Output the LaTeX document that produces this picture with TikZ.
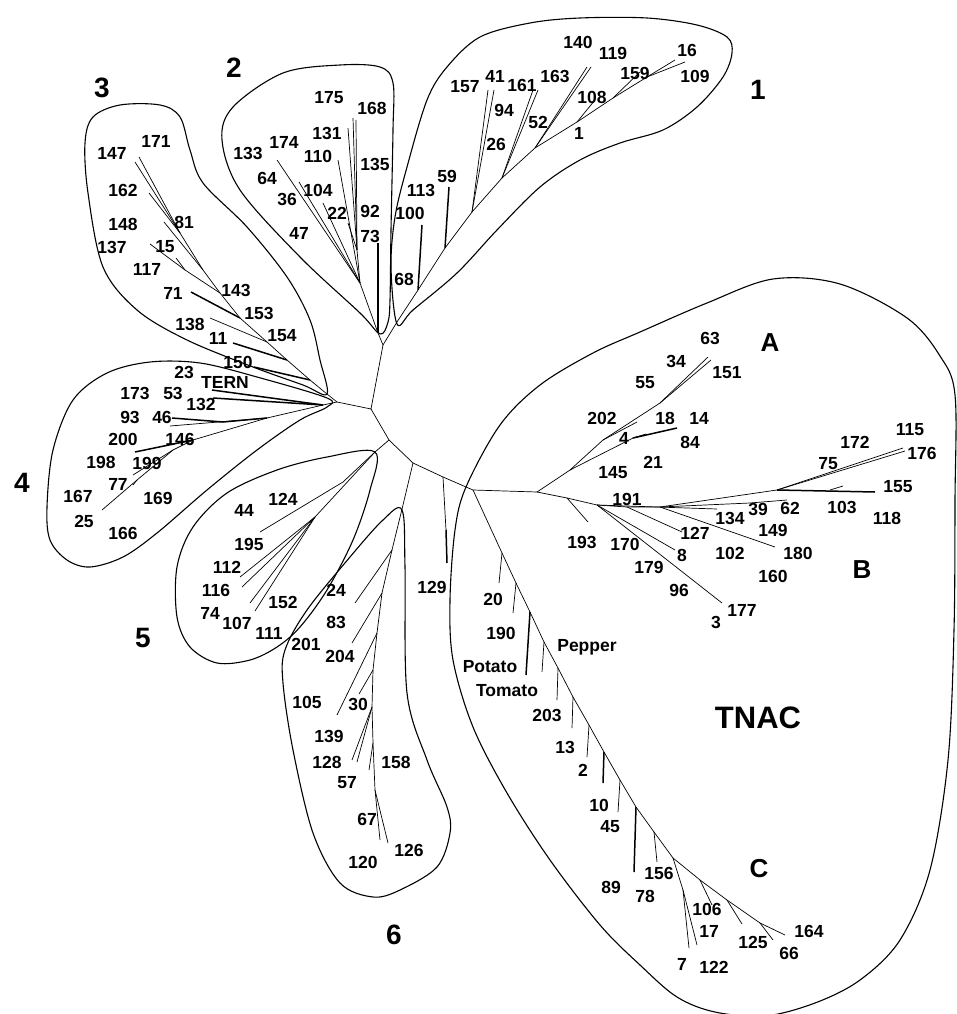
\documentclass[tikz,border=0pt]{standalone}
\usepackage{fontspec}
\setmainfont{Liberation Sans}
\begin{document}
\begin{tikzpicture}[x=1pt,y=-1pt,
  br/.style={line width=0.7pt},
  brk/.style={line width=1.5pt},
  hull/.style={line width=1.1pt},
  lab/.style={font=\fontsize{17.5}{19}\selectfont\bfseries, inner sep=0pt},
  big/.style={font=\fontsize{28}{30}\selectfont\bfseries, inner sep=0pt},
  sub/.style={font=\fontsize{26}{28}\selectfont\bfseries, inner sep=0pt},
  huge/.style={font=\fontsize{31}{33}\selectfont\bfseries, inner sep=0pt}]
\useasboundingbox (0,0) rectangle (956,1014);
% ---------------- hulls ----------------
\draw[hull] plot[smooth cycle, tension=0.55] coordinates {(397,324) (391,267) (395,217) (407,167) (427,100) (447,67) (480,37) (530,23) (580,18) (647,18) (697,25) (727,37) (732,53) (723,77) (697,107) (663,130) (620,143) (580,160) (540,187) (497,230) (457,273) (413,310)};
\draw[hull] plot[smooth cycle, tension=0.55] coordinates {(380,334) (360,313) (300,257) (240,190) (222,140) (233,107) (283,73) (340,65) (380,67) (393,83) (393,130) (391,230) (390,300) (388,322)};
\draw[hull] plot[smooth cycle, tension=0.55] coordinates {(327,394) (320,360) (310,320) (287,277) (247,227) (203,183) (190,150) (180,117) (160,105) (120,105) (93,117) (85,143) (88,193) (103,267) (137,310) (187,340) (253,367) (303,385)};
\draw[hull] plot[smooth cycle, tension=0.55] coordinates {(327,398) (257,377) (200,363) (150,362) (107,373) (73,400) (53,450) (47,507) (50,540) (67,560) (90,567) (123,557) (157,533) (207,490) (257,450) (300,420) (327,407)};
\draw[hull] plot[smooth cycle, tension=0.55] coordinates {(375,452) (327,457) (277,470) (227,493) (193,527) (177,567) (177,617) (190,647) (217,663) (250,660) (277,647) (300,627) (327,590) (353,540) (370,490)};
\draw[hull] plot[smooth cycle, tension=0.55] coordinates {(402,510) (405,567) (407,693) (427,760) (447,807) (450,833) (437,867) (400,890) (373,897) (340,883) (313,833) (293,750) (283,683) (285,650) (307,610) (350,557) (383,520)};
\draw[hull] plot[smooth cycle, tension=0.55] coordinates {(466,487) (455,530) (450,600) (453,660) (473,727) (507,793) (550,860) (600,925) (640,965) (677,997) (715,1012) (765,1016) (815,1003) (860,980) (900,940) (930,870) (948,760) (954,630) (955,500) (955,395) (940,356) (907,318) (840,284) (773,279) (707,303) (640,332) (593,353) (540,385) (500,425)};
% ---------------- backbone ----------------
\coordinate (r1) at (397,322);
\coordinate (r2) at (378,333);
\coordinate (c12) at (383,345);
\coordinate (n1) at (371,409);
\coordinate (n34) at (337,402);
\coordinate (r3) at (327,394);
\coordinate (r4) at (323,405);
\coordinate (n2) at (389,440);
\coordinate (r5) at (375,452);
\coordinate (n3) at (413,463);
\coordinate (n129) at (443,477);
\coordinate (rT) at (473,490);
\coordinate (rAB) at (537,492);
\draw[br] (r1) -- (c12) -- (r2);
\draw[br] (c12) -- (n1) -- (n34) -- (r3);
\draw[br] (n34) -- (r4);
\draw[br] (n1) -- (n2) -- (r5);
\draw[br] (n2) -- (n3) -- (n129) -- (rT) -- (rAB);
% ---------------- clade 1 ----------------
\coordinate (a1) at (418,290); \coordinate (a2) at (445,248); \coordinate (a3) at (472,212);
\coordinate (a4) at (502,178); \coordinate (a5) at (535,148); \coordinate (a6) at (577,122);
\coordinate (a7) at (613,98); \coordinate (a8) at (647,77);
\coordinate (t109) at (685,62); \coordinate (t16) at (675,60); \coordinate (t68) at (422,225);
\coordinate (t59) at (449,187); \coordinate (t157) at (488,90); \coordinate (t41) at (494,90);
\coordinate (t161) at (533,90); \coordinate (t163) at (538,90); \coordinate (t140) at (587,67);
\coordinate (t119) at (591,67); \coordinate (t108) at (595,100); \coordinate (t159) at (640,72);
\draw[br] (r1) -- (a1) -- (a2) -- (a3) -- (a4) -- (a5) -- (a6) -- (a7) -- (a8) -- (t109);
\draw[br] (a8) -- (t16);
\draw[brk] (a1) -- (t68);
\draw[brk] (a2) -- (t59);
\draw[br] (a3) -- (t157); \draw[br] (a3) -- (t41);
\draw[br] (a4) -- (t161); \draw[br] (a4) -- (t163);
\draw[br] (a5) -- (t140); \draw[br] (a5) -- (t119);
\draw[br] (a6) -- (t108);
\draw[br] (a7) -- (t159);
% ---------------- clade 2 ----------------
\coordinate (m1) at (360,283); \coordinate (m2) at (357,250);
\coordinate (t73) at (378,243); \coordinate (t168) at (353,118); \coordinate (t175) at (356,120);
\coordinate (t131) at (348,128); \coordinate (t110) at (338,160); \coordinate (t22) at (323,203);
\coordinate (t64) at (299,182); \coordinate (t133) at (277,160); \coordinate (t92) at (348,223);
\draw[brk] (r2) -- (t73);
\draw[br] (r2) -- (m1) -- (m2) -- (t168);
\draw[br] (m2) -- (t175); \draw[br] (m2) -- (t131); \draw[br] (m2) -- (t92);
\draw[br] (m1) -- (t110); \draw[br] (m1) -- (t22); \draw[br] (m1) -- (t64); \draw[br] (m1) -- (t133);
% ---------------- clade 3 ----------------
\coordinate (q0) at (310,380); \coordinate (q1) at (287,360); \coordinate (q2) at (267,342);
\coordinate (q3) at (240,318); \coordinate (q4) at (220,293); \coordinate (q5) at (203,270);
\coordinate (q6) at (180,233); \coordinate (q45) at (185,270);
\coordinate (t171) at (139,157); \coordinate (t147) at (135,162); \coordinate (t150) at (254,367);
\coordinate (t11) at (233,343); \coordinate (t138) at (210,318); \coordinate (t71) at (191,292);
\coordinate (t137) at (150,244); \coordinate (t15) at (176,258); \coordinate (t81) at (164,222);
\coordinate (t162) at (149,193);
\draw[br] (r3) -- (q0) -- (q1) -- (q2) -- (q3) -- (q4) -- (q5) -- (q6) -- (t171);
\draw[br] (q6) -- (t147);
\draw[brk] (q0) -- (t150); \draw[brk] (q1) -- (t11); \draw[br] (q2) -- (t138); \draw[brk] (q3) -- (t71);
\draw[br] (q4) -- (q45) -- (t137); \draw[br] (q45) -- (t15);
\draw[br] (q5) -- (t81); \draw[br] (q6) -- (t162);
% ---------------- clade 4 ----------------
\coordinate (p1) at (267,418); \coordinate (p2) at (193,440); \coordinate (p3) at (173,450);
\coordinate (p4) at (137,480); \coordinate (p1b) at (223,422);
\coordinate (t23) at (212,390); \coordinate (t53) at (213,398); \coordinate (t46) at (172,418);
\coordinate (t146) at (170,426); \coordinate (t200) at (135,452); \coordinate (t199) at (133,475);
\coordinate (t77) at (133,485); \coordinate (t167) at (102,510);
\draw[brk] (r4) -- (t23); \draw[brk] (r4) -- (t53);
\draw[br] (r4) -- (p1) -- (p2) -- (p3) -- (p4) -- (t167);
\draw[brk] (p1) -- (p1b) -- (t46);
\draw[br] (p1) -- (t146); \draw[brk] (p2) -- (t200); \draw[br] (p3) -- (t199); \draw[br] (p4) -- (t77);
% ---------------- clade 5 ----------------
\coordinate (v1) at (343,482); \coordinate (v2) at (315,517);
\coordinate (t124) at (260,532); \coordinate (t195) at (240,577); \coordinate (t116) at (242,587);
\coordinate (t74) at (250,603); \coordinate (t107) at (255,611);
\draw[br] (r5) -- (v1) -- (t124);
\draw[br] (r5) -- (v2) -- (t195); \draw[br] (v2) -- (t116); \draw[br] (v2) -- (t74); \draw[br] (v2) -- (t107);
% ---------------- clade 6 ----------------
\coordinate (s0) at (403,505); \coordinate (s1) at (392,550); \coordinate (s2) at (382,593);
\coordinate (s3) at (377,633); \coordinate (s4) at (373,670); \coordinate (s5) at (372,707);
\coordinate (s6) at (373,743); \coordinate (s7) at (375,790);
\coordinate (t24) at (355,603); \coordinate (t83) at (352,643); \coordinate (t204) at (337,715);
\coordinate (t30) at (359,694); \coordinate (t139) at (357,762); \coordinate (t128) at (352,760);
\coordinate (t57) at (369,770); \coordinate (t120) at (380,840); \coordinate (t126) at (388,843);
\draw[br] (n3) -- (s0) -- (s1) -- (s2) -- (s3) -- (s4) -- (s5) -- (s6) -- (s7) -- (t120);
\draw[br] (s7) -- (t126);
\draw[br] (s1) -- (t24); \draw[br] (s2) -- (t83); \draw[br] (s3) -- (t204); \draw[br] (s4) -- (t30);
\draw[br] (s5) -- (t139); \draw[br] (s5) -- (t128); \draw[br] (s6) -- (t57);
% ---------------- 129 ----------------
\coordinate (k129) at (446,530); \coordinate (t129) at (447,563);
\draw[br] (n129) -- (k129); \draw[brk] (k129) -- (t129);
% ---------------- TNAC C ----------------
\coordinate (e1) at (502,553); \coordinate (e2) at (516,583); \coordinate (e3) at (530,612);
\coordinate (e4) at (544,642); \coordinate (e5) at (558,668); \coordinate (e6) at (573,697);
\coordinate (e7) at (589,725); \coordinate (e8) at (604,752); \coordinate (e9) at (620,780);
\coordinate (e10) at (636,807); \coordinate (e11) at (654,832); \coordinate (e12) at (673,858);
\coordinate (e13) at (700,880); \coordinate (e14) at (727,900); \coordinate (e15) at (760,923);
\coordinate (e12a) at (683,890);
\coordinate (t164) at (785,935); \coordinate (t20) at (499,583); \coordinate (t190) at (513,613);
\coordinate (tpot) at (526,675); \coordinate (tpep) at (542,672); \coordinate (t203) at (557,700);
\coordinate (t13) at (572,728); \coordinate (t2) at (587,757); \coordinate (t10) at (603,783);
\coordinate (t45) at (618,812); \coordinate (t89) at (634,872); \coordinate (t78) at (657,862);
\coordinate (t7) at (689,948); \coordinate (t122) at (697,945); \coordinate (t106) at (712,905);
\coordinate (t125) at (742,924); \coordinate (t66) at (773,940);
\draw[br] (rT) -- (e1) -- (e2) -- (e3) -- (e4) -- (e5) -- (e6) -- (e7) -- (e8) -- (e9) -- (e10) -- (e11) -- (e12) -- (e13) -- (e14) -- (e15) -- (t164);
\draw[br] (e1) -- (t20); \draw[br] (e2) -- (t190); \draw[brk] (e3) -- (tpot); \draw[br] (e4) -- (tpep);
\draw[br] (e5) -- (t203); \draw[br] (e6) -- (t13); \draw[br] (e7) -- (t2); \draw[brk] (e8) -- (t10);
\draw[br] (e9) -- (t45); \draw[brk] (e10) -- (t89); \draw[br] (e11) -- (t78);
\draw[br] (e12) -- (e12a) -- (t7); \draw[br] (e12a) -- (t122);
\draw[br] (e13) -- (t106); \draw[br] (e14) -- (t125); \draw[br] (e15) -- (t66);
% ---------------- TNAC A ----------------
\coordinate (ga) at (570,470); \coordinate (gb) at (603,440); \coordinate (gc) at (660,403);
\coordinate (gd) at (633,438);
\coordinate (t63) at (708,357); \coordinate (t151) at (711,360); \coordinate (t202) at (637,422);
\coordinate (t18) at (677,428); \coordinate (t4) at (646,434);
\draw[br] (rAB) -- (ga) -- (gb) -- (gc) -- (t63); \draw[br] (gc) -- (t151);
\draw[br] (gb) -- (t202);
\draw[br] (ga) -- (gd); \draw[brk] (gd) -- (t18); \draw[br] (gd) -- (t4);
% ---------------- TNAC B ----------------
\coordinate (h1) at (567,498); \coordinate (h2) at (597,505); \coordinate (h3) at (627,507);
\coordinate (h4) at (660,507); \coordinate (h5) at (777,490); \coordinate (h6) at (750,503);
\coordinate (t193) at (588,522); \coordinate (t191) at (717,509); \coordinate (t8) at (675,550);
\coordinate (t177) at (722,603); \coordinate (t127) at (682,532); \coordinate (t180) at (775,547);
\coordinate (t62) at (787,500); \coordinate (t115) at (903,448); \coordinate (t176) at (905,451);
\coordinate (t155) at (875,492); \coordinate (t103) at (843,486); \coordinate (h7) at (830,490);
\draw[br] (rAB) -- (h1) -- (t193);
\draw[br] (h1) -- (h2) -- (t191);
\draw[br] (h2) -- (t8); \draw[br] (h2) -- (t177);
\draw[br] (h2) -- (h3) -- (h4) -- (h5) -- (t115); \draw[br] (h5) -- (t176);
\draw[br] (h3) -- (t127); \draw[br] (h4) -- (t180);
\draw[br] (h4) -- (h6) -- (t62);
\draw[brk] (h5) -- (t155); \draw[br] (h7) -- (t103);
% ---------------- labels ----------------
\node[lab] (l140) at (578,42) {140}; \node[lab] (l119) at (613,53) {119};
\node[lab] (l16) at (687,50) {16}; \node[lab] (l109) at (695,76) {109};
\node[lab] (l157) at (465,87) {157}; \node[lab] (l41) at (495,76) {41};
\node[lab] (l161) at (522,85) {161}; \node[lab] (l163) at (555,76) {163};
\node[lab] (l159) at (635,73) {159}; \node[lab] (l108) at (592,97) {108};
\node[lab] (l94) at (504,110) {94}; \node[lab] (l52) at (538,122) {52};
\node[lab] (l1) at (579,133) {1}; \node[lab] (l26) at (496,144) {26};
\node[lab] (l59) at (447,176) {59}; \node[lab] (l113) at (421,190) {113};
\node[lab] (l100) at (410,213) {100}; \node[lab] (l68) at (404,279) {68};
\node[lab] (l175) at (329,98) {175}; \node[lab] (l168) at (372,108) {168};
\node[lab] (l131) at (327,133) {131}; \node[lab] (l174) at (284,142) {174};
\node[lab] (l133) at (248,153) {133}; \node[lab] (l110) at (318,156) {110};
\node[lab] (l135) at (375,164) {135}; \node[lab] (l64) at (267,178) {64};
\node[lab] (l104) at (318,190) {104}; \node[lab] (l36) at (287,199) {36};
\node[lab] (l22) at (337,213) {22}; \node[lab] (l92) at (370,211) {92};
\node[lab] (l47) at (299,233) {47}; \node[lab] (l73) at (370,236) {73};
\node[lab] (l171) at (156,141) {171}; \node[lab] (l147) at (112,153) {147};
\node[lab] (l162) at (123,190) {162}; \node[lab] (l148) at (123,224) {148};
\node[lab] (l81) at (184,222) {81}; \node[lab] (l137) at (112,247) {137};
\node[lab] (l15) at (165,247) {15}; \node[lab] (l117) at (147,269) {117};
\node[lab] (l71) at (173,293) {71}; \node[lab] (l143) at (236,290) {143};
\node[lab] (l153) at (259,313) {153}; \node[lab] (l138) at (190,324) {138};
\node[lab] (l154) at (282,336) {154}; \node[lab] (l11) at (218,338) {11};
\node[lab] (l150) at (238,362) {150};
\node[lab] (l23) at (184,372) {23}; \node[lab] (lTERN) at (225,382) {TERN};
\node[lab] (l173) at (135,393) {173}; \node[lab] (l53) at (173,393) {53};
\node[lab] (l132) at (201,404) {132}; \node[lab] (l93) at (130,417) {93};
\node[lab] (l46) at (162,417) {46}; \node[lab] (l200) at (123,439) {200};
\node[lab] (l146) at (180,439) {146}; \node[lab] (l198) at (101,462) {198};
\node[lab] (l199) at (147,463) {199}; \node[lab] (l77) at (118,484) {77};
\node[lab] (l169) at (158,498) {169}; \node[lab] (l167) at (78,496) {167};
\node[lab] (l25) at (84,521) {25}; \node[lab] (l166) at (123,533) {166};
\node[lab] (l44) at (244,510) {44}; \node[lab] (l124) at (283,499) {124};
\node[lab] (l195) at (249,544) {195}; \node[lab] (l112) at (227,567) {112};
\node[lab] (l116) at (216,590) {116}; \node[lab] (l152) at (283,602) {152};
\node[lab] (l74) at (210,613) {74}; \node[lab] (l107) at (237,623) {107};
\node[lab] (l111) at (269,633) {111};
\node[lab] (l24) at (336,590) {24}; \node[lab] (l83) at (336,622) {83};
\node[lab] (l201) at (306,644) {201}; \node[lab] (l204) at (340,656) {204};
\node[lab] (l105) at (307,702) {105}; \node[lab] (l30) at (358,704) {30};
\node[lab] (l139) at (329,736) {139}; \node[lab] (l128) at (327,762) {128};
\node[lab] (l158) at (396,762) {158}; \node[lab] (l57) at (347,783) {57};
\node[lab] (l67) at (367,819) {67}; \node[lab] (l126) at (409,850) {126};
\node[lab] (l120) at (363,862) {120};
\node[lab] (l129) at (432,587) {129};
\node[lab] (l63) at (710,338) {63}; \node[lab] (l34) at (676,361) {34};
\node[lab] (l151) at (727,373) {151}; \node[lab] (l55) at (645,383) {55};
\node[lab] (l202) at (602,418) {202}; \node[lab] (l18) at (665,418) {18};
\node[lab] (l14) at (699,418) {14}; \node[lab] (l4) at (624,438) {4};
\node[lab] (l84) at (690,442) {84}; \node[lab] (l21) at (653,462) {21};
\node[lab] (l145) at (613,473) {145};
\node[lab] (l172) at (855,442) {172}; \node[lab] (l115) at (910,430) {115};
\node[lab] (l75) at (828,464) {75}; \node[lab] (l176) at (922,453) {176};
\node[lab] (l155) at (898,487) {155}; \node[lab] (l191) at (627,499) {191};
\node[lab] (l39) at (758,509) {39}; \node[lab] (l62) at (790,508) {62};
\node[lab] (l103) at (842,507) {103}; \node[lab] (l134) at (730,518) {134};
\node[lab] (l118) at (887,518) {118}; \node[lab] (l149) at (773,530) {149};
\node[lab] (l127) at (695,533) {127}; \node[lab] (l193) at (582,542) {193};
\node[lab] (l170) at (625,544) {170}; \node[lab] (l102) at (730,553) {102};
\node[lab] (l8) at (682,555) {8}; \node[lab] (l180) at (798,553) {180};
\node[lab] (l179) at (649,567) {179}; \node[lab] (l160) at (773,576) {160};
\node[lab] (l96) at (679,590) {96}; \node[lab] (l177) at (742,610) {177};
\node[lab] (l3) at (716,622) {3};
\node[lab] (l20) at (493,599) {20}; \node[lab] (l190) at (501,633) {190};
\node[lab] (lPepper) at (587,647) {Pepper}; \node[lab] (lPotato) at (490,667) {Potato};
\node[lab] (lTomato) at (507,691) {Tomato}; \node[lab] (l203) at (547,715) {203};
\node[lab] (l13) at (565,747) {13}; \node[lab] (l2) at (583,770) {2};
\node[lab] (l10) at (599,805) {10}; \node[lab] (l45) at (610,827) {45};
\node[lab] (l89) at (611,887) {89}; \node[lab] (l78) at (645,896) {78};
\node[lab] (l156) at (659,873) {156}; \node[lab] (l106) at (707,909) {106};
\node[lab] (l17) at (709,931) {17}; \node[lab] (l125) at (753,942) {125};
\node[lab] (l164) at (809,931) {164}; \node[lab] (l66) at (789,953) {66};
\node[lab] (l7) at (682,964) {7}; \node[lab] (l122) at (714,967) {122};
% group labels
\node[big] (g1) at (758,90) {1}; \node[big] (g2) at (234,68) {2};
\node[big] (g3) at (102,88) {3}; \node[big] (g4) at (22,483) {4};
\node[big] (g5) at (143,638) {5}; \node[big] (g6) at (394,935) {6};
\node[sub] (gA) at (770,343) {A}; \node[sub] (gB) at (862,570) {B};
\node[sub] (gC) at (759,869) {C}; \node[huge] (gT) at (758,718) {TNAC};
\end{tikzpicture}
\end{document}
